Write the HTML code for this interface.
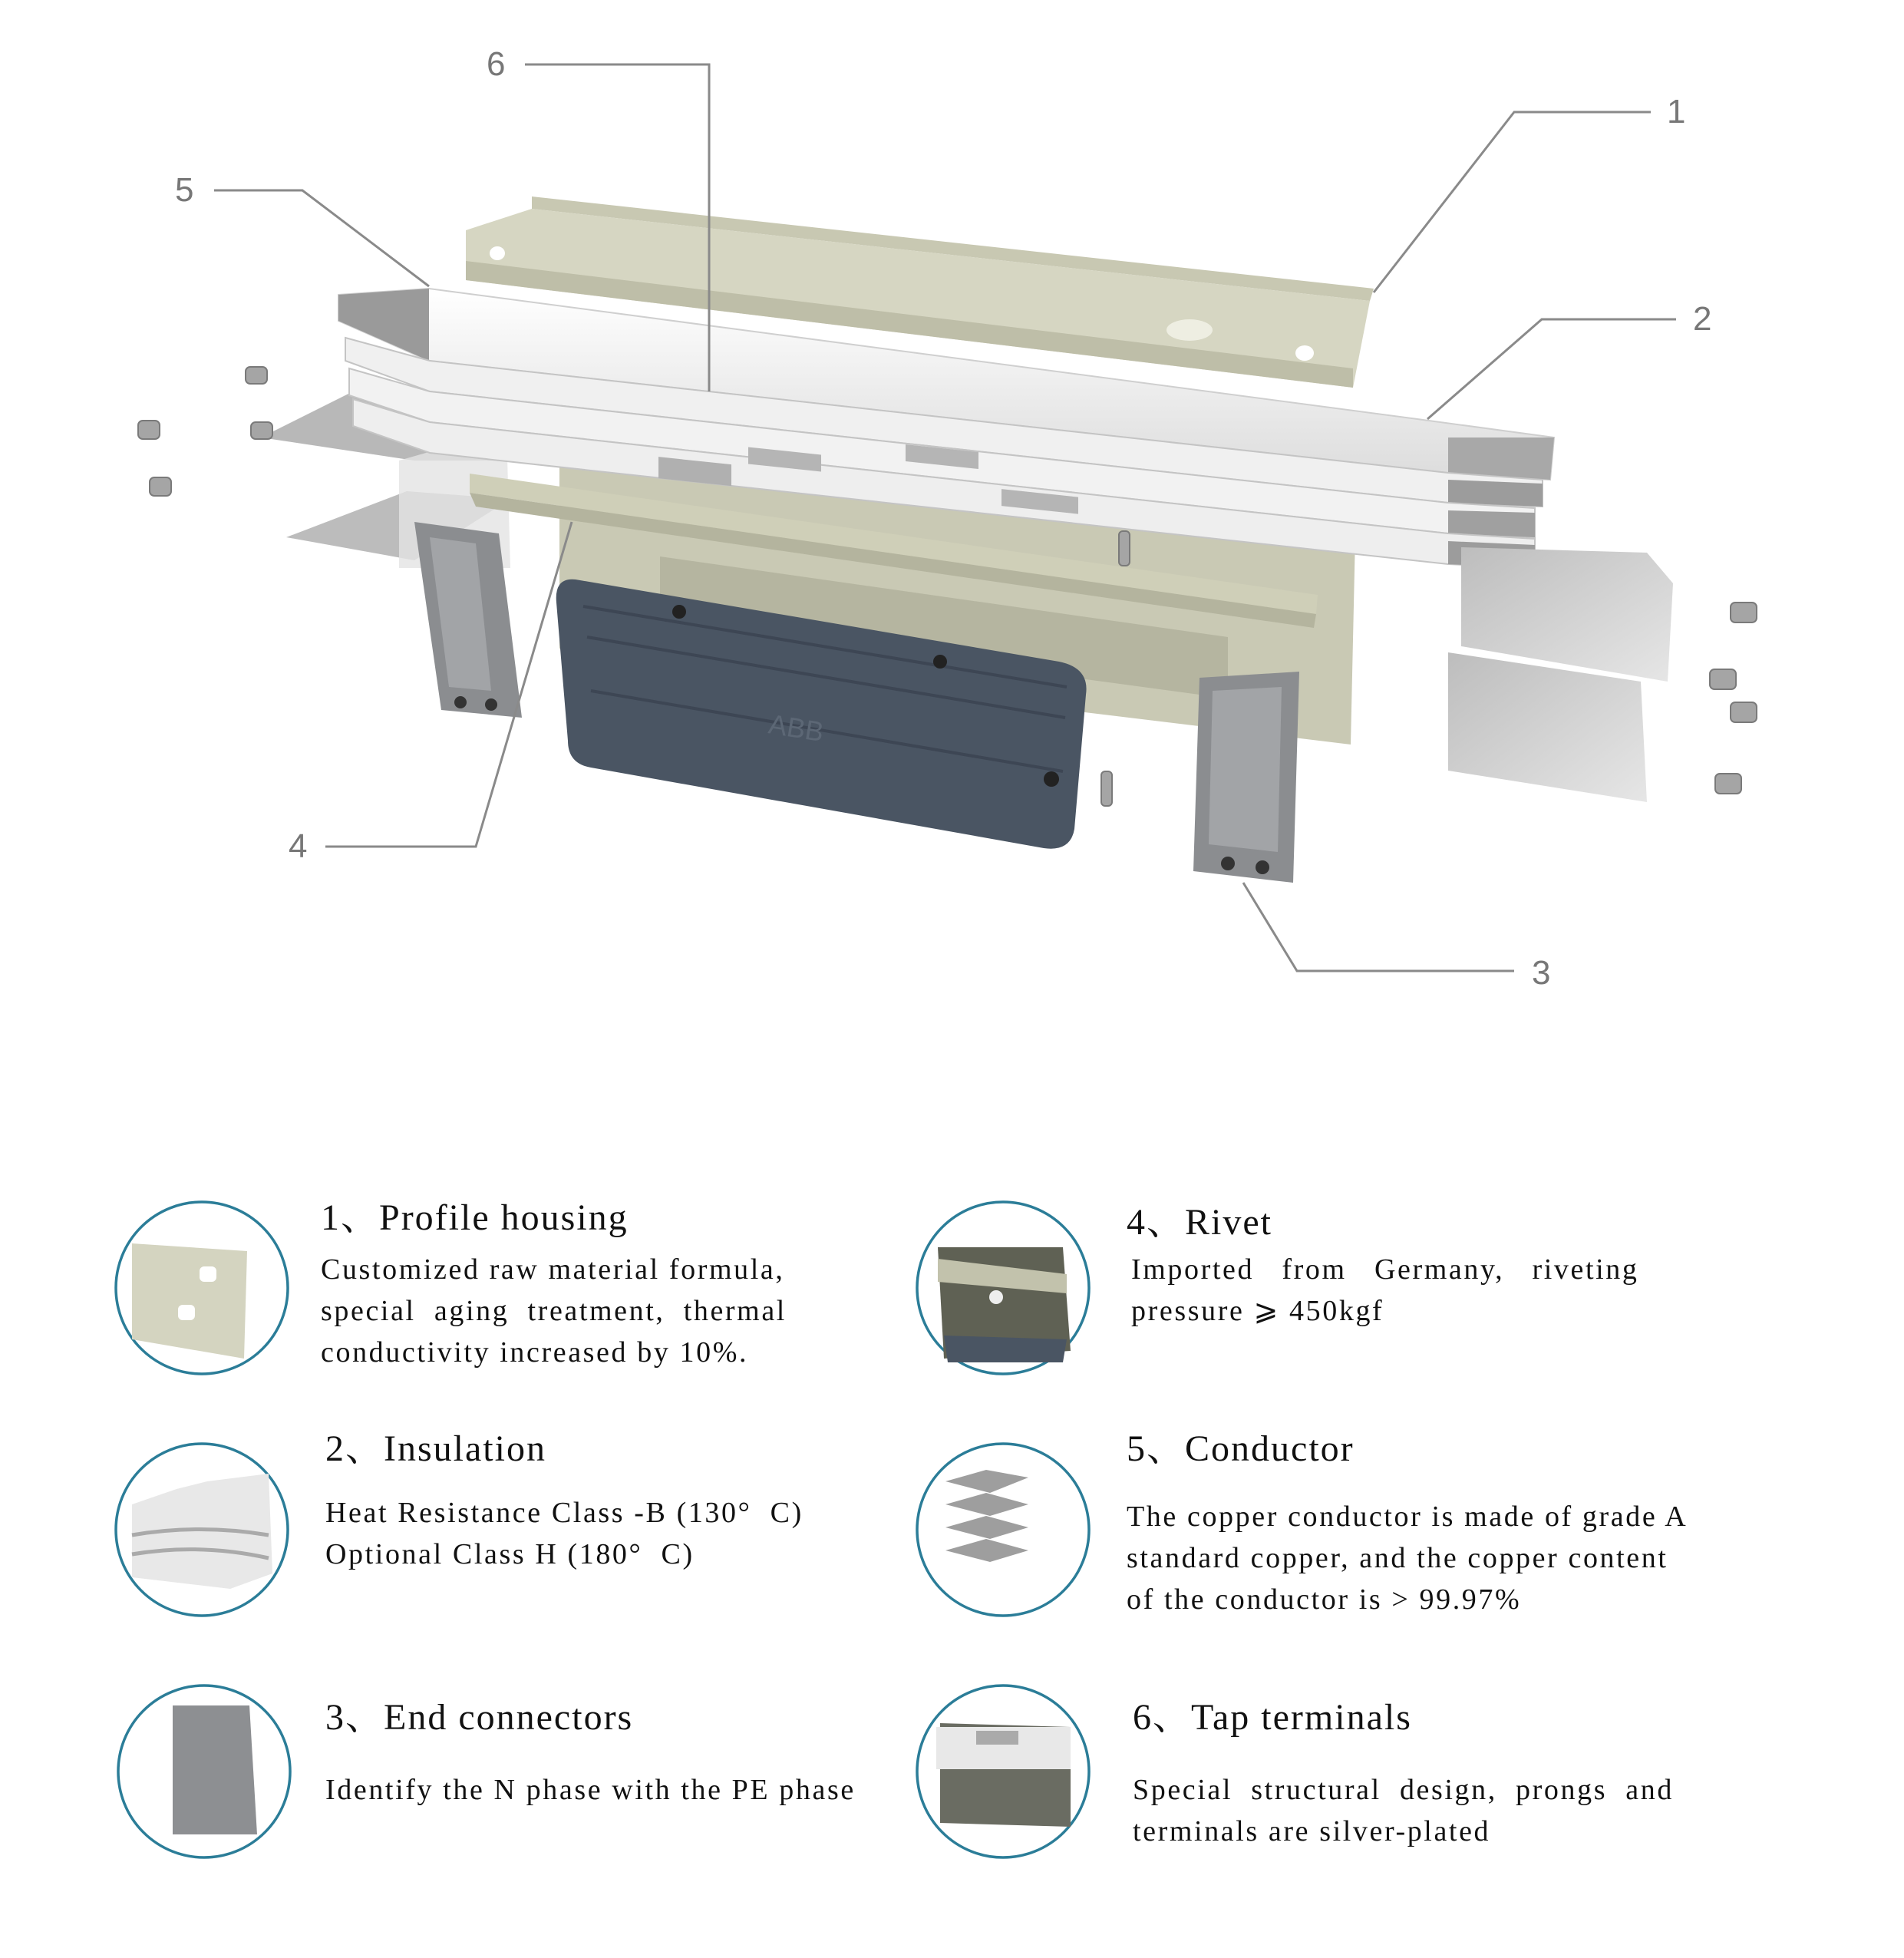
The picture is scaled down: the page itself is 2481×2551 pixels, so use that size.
<!DOCTYPE html>
<html><head><meta charset="utf-8"><style>
html,body{margin:0;padding:0;background:#fff;}
#p{position:relative;width:2481px;height:2551px;overflow:hidden;background:#fff;font-family:"Liberation Serif","Noto Serif CJK SC",serif;color:#111;}
.t{position:absolute;font-size:48px;line-height:48px;white-space:nowrap;letter-spacing:2px;}
.b{position:absolute;font-size:38px;line-height:54px;white-space:nowrap;letter-spacing:2.6px;}
.n{position:absolute;font-family:"Liberation Sans",sans-serif;font-size:44px;color:#777;line-height:44px;}
svg{position:absolute;left:0;top:0;}
</style></head><body><div id="p">
<svg width="2481" height="2551" viewBox="0 0 2481 2551">
<defs>
<linearGradient id="wg" x1="0" y1="0" x2="0" y2="1"><stop offset="0" stop-color="#ffffff"/><stop offset="1" stop-color="#dcdcdc"/></linearGradient>
<linearGradient id="gg" x1="0" y1="0" x2="1" y2="1"><stop offset="0" stop-color="#bdbdbd"/><stop offset="1" stop-color="#e6e6e6"/></linearGradient>
</defs>
<polygon points="729,551 1766,697 1760,970 729,845" fill="#c9c9b4"/>
<polygon points="860,725 1600,830 1600,910 860,810" fill="#b5b5a0"/>
<polygon points="340,570 470,505 665,540 660,600 540,600" fill="#b8b8b8"/>
<polygon points="373,700 530,640 665,650 540,730" fill="#bcbcbc"/>
<polygon points="520,600 660,560 665,740 520,740" fill="#e4e4e4" opacity="0.8"/>
<polygon points="693,256 1790,376 1785,392 693,272" fill="#c8c8b2"/>
<polygon points="607,300 693,272 1785,392 1763,505 607,365" fill="#d6d6c2"/>
<polygon points="607,340 1763,480 1763,505 607,365" fill="#bebea8"/>
<ellipse cx="648" cy="330" rx="10" ry="9" fill="#fff"/>
<ellipse cx="1700" cy="460" rx="12" ry="10" fill="#fff"/>
<ellipse cx="1550" cy="430" rx="30" ry="14" fill="#eeeee2"/>
<g>
<polygon points="441,384 559,376 1847,546 2025,570 2020,625 1887,616 559,470 441,418" fill="url(#wg)" stroke="#cfcfcf" stroke-width="2"/>
<polygon points="441,384 559,376 559,470 441,418" fill="#9a9a9a"/>
<polygon points="1887,570 2025,570 2020,625 1887,616" fill="#a8a8a8"/>
<polygon points="450,440 560,470 1887,616 2010,625 2010,660 1887,655 560,510 450,470" fill="#f0f0f0" stroke="#c4c4c4" stroke-width="2"/>
<polygon points="1887,625 2010,630 2010,660 1887,655" fill="#9c9c9c"/>
<polygon points="455,480 560,510 1887,655 2000,662 2000,700 1887,695 560,550 455,515" fill="#f2f2f2" stroke="#c4c4c4" stroke-width="2"/>
<polygon points="1887,665 2000,668 2000,700 1887,695" fill="#a0a0a0"/>
<polygon points="460,520 560,550 1887,695 2000,702 2000,740 1887,735 560,590 460,555" fill="#eeeeee" stroke="#c4c4c4" stroke-width="2"/>
<polygon points="1887,705 2000,710 2000,740 1887,735" fill="#9c9c9c"/>
</g>
<rect x="858" y="505" width="95" height="28" fill="#b0b0b0" transform="skewY(6)"/>
<rect x="975" y="480" width="95" height="22" fill="#b5b5b5" transform="skewY(6)"/>
<rect x="1180" y="455" width="95" height="22" fill="#b5b5b5" transform="skewY(6)"/>
<rect x="1305" y="500" width="100" height="22" fill="#b5b5b5" transform="skewY(6)"/>
<polygon points="612,617 1717,775 1715,800 612,642" fill="#cfcfb8"/>
<polygon points="612,642 1715,800 1712,818 620,660" fill="#b4b49e"/>
<polygon points="1904,713 2146,720 2180,760 2173,888 1904,842" fill="url(#gg)"/>
<polygon points="1887,850 2138,888 2146,1045 1887,1004" fill="url(#gg)"/>
<path d="M750,755 L1380,862 Q1420,870 1415,905 L1400,1080 Q1395,1110 1360,1105 L770,1000 Q740,995 740,965 L725,785 Q722,752 750,755 Z" fill="#4a5563"/>
<path d="M760,790 L1390,895 M765,830 L1388,935 M770,900 L1385,1005" stroke="#3d4654" stroke-width="4" fill="none"/>
<text x="1000" y="955" font-family="Liberation Sans,sans-serif" font-size="36" fill="#5c6775" transform="rotate(9 1000 955)">ABB</text>
<circle cx="885" cy="797" r="9" fill="#222"/><circle cx="1225" cy="862" r="9" fill="#222"/><circle cx="1370" cy="1015" r="10" fill="#222"/>
<polygon points="540,680 650,695 680,935 575,925" fill="#8b8d90"/>
<polygon points="560,700 620,708 640,900 585,895" fill="#a2a4a7"/>
<polygon points="1563,883 1693,875 1685,1150 1555,1135" fill="#8b8d90"/>
<polygon points="1580,900 1670,895 1665,1110 1575,1100" fill="#a2a4a7"/>
<circle cx="1600" cy="1125" r="9" fill="#333"/><circle cx="1645" cy="1130" r="9" fill="#333"/>
<circle cx="600" cy="915" r="8" fill="#333"/><circle cx="640" cy="918" r="8" fill="#333"/>
<g fill="#a5a5a5" stroke="#7a7a7a" stroke-width="2">
<rect x="320" y="478" width="28" height="22" rx="6"/><rect x="180" y="548" width="28" height="24" rx="6"/>
<rect x="195" y="622" width="28" height="24" rx="6"/><rect x="327" y="550" width="28" height="22" rx="6"/>
<rect x="2255" y="785" width="34" height="26" rx="6"/><rect x="2228" y="872" width="34" height="26" rx="6"/>
<rect x="2255" y="915" width="34" height="26" rx="6"/><rect x="2235" y="1008" width="34" height="26" rx="6"/>
<rect x="1458" y="692" width="14" height="45" rx="5"/><rect x="1435" y="1005" width="14" height="45" rx="5"/>
</g>
<g stroke="#8a8a8a" stroke-width="3" fill="none">
<polyline points="684,84 924,84 924,510"/>
<polyline points="2151,146 1973,146 1790,381"/>
<polyline points="279,248 394,248 559,373"/>
<polyline points="2184,416 2009,416 1860,546"/>
<polyline points="424,1103 620,1103 745,680"/>
<polyline points="1973,1265 1690,1265 1620,1150"/>
</g>
<g stroke="#2b7d98" stroke-width="3.5">
<ellipse cx="263" cy="1678" rx="112" ry="112" fill="#fff"/>
<ellipse cx="263" cy="1993" rx="112" ry="112" fill="#fff"/>
<ellipse cx="266" cy="2308" rx="112" ry="112" fill="#fff"/>
<ellipse cx="1307" cy="1678" rx="112" ry="112" fill="#fff"/>
<ellipse cx="1307" cy="1993" rx="112" ry="112" fill="#fff"/>
<ellipse cx="1307" cy="2308" rx="112" ry="112" fill="#fff"/>
</g>
<polygon points="172,1620 322,1630 318,1770 172,1745" fill="#d4d4c0"/>
<rect x="260" y="1650" width="22" height="20" rx="6" fill="#fff"/><rect x="232" y="1700" width="22" height="20" rx="6" fill="#fff"/>
<path d="M172,1960 L230,1940 L270,1930 L350,1920 L355,2050 L300,2070 L172,2055 Z" fill="#e8e8e8"/>
<path d="M172,2000 Q260,1985 350,2000 M172,2025 Q260,2010 350,2030" stroke="#aaa" stroke-width="5" fill="none"/>
<polygon points="225,2222 325,2222 335,2390 225,2390" fill="#8d8f92"/>
<polygon points="1222,1625 1385,1625 1395,1760 1230,1770" fill="#5f6154"/>
<polygon points="1222,1640 1390,1660 1390,1685 1222,1670" fill="#c2c2ac"/>
<circle cx="1298" cy="1690" r="9" fill="#eee"/>
<polygon points="1230,1740 1390,1745 1385,1775 1235,1775" fill="#4a5563"/>
<g fill="#9e9e9e"><polygon points="1232,1930 1285,1915 1340,1925 1290,1945"/><polygon points="1232,1960 1285,1945 1340,1960 1290,1975"/><polygon points="1232,1990 1285,1975 1340,1990 1290,2005"/><polygon points="1232,2020 1285,2005 1340,2020 1290,2035"/></g>
<polygon points="1225,2245 1395,2250 1395,2380 1225,2375" fill="#6a6c62"/>
<rect x="1220" y="2250" width="175" height="55" fill="#e8e8e8"/>
<rect x="1272" y="2255" width="55" height="18" fill="#aaa"/>
</svg>
<div class="n" style="left:634px;top:62px">6</div>
<div class="n" style="left:2172px;top:124px">1</div>
<div class="n" style="left:228px;top:226px">5</div>
<div class="n" style="left:2206px;top:394px">2</div>
<div class="n" style="left:376px;top:1081px">4</div>
<div class="n" style="left:1996px;top:1246px">3</div>

<div class="t" style="left:418px;top:1563px">1、Profile housing</div>
<div class="b" style="left:418px;top:1627px">Customized raw material formula,<br>special &nbsp;aging &nbsp;treatment, &nbsp;thermal<br>conductivity increased by 10%.</div>
<div class="t" style="left:424px;top:1864px">2、Insulation</div>
<div class="b" style="left:424px;top:1944px">Heat Resistance Class -B (130° &nbsp;C)<br>Optional Class H (180° &nbsp;C)</div>
<div class="t" style="left:424px;top:2214px">3、End connectors</div>
<div class="b" style="left:424px;top:2305px">Identify the N phase with the PE phase</div>

<div class="t" style="left:1468px;top:1569px">4、Rivet</div>
<div class="b" style="left:1474px;top:1627px">Imported &nbsp;&nbsp;from &nbsp;&nbsp;Germany, &nbsp;&nbsp;riveting<br>pressure ⩾ 450kgf</div>
<div class="t" style="left:1468px;top:1864px">5、Conductor</div>
<div class="b" style="left:1468px;top:1949px">The copper conductor is made of grade A<br>standard copper, and the copper content<br>of the conductor is &gt; 99.97%</div>
<div class="t" style="left:1476px;top:2214px">6、Tap terminals</div>
<div class="b" style="left:1476px;top:2305px">Special &nbsp;structural &nbsp;design, &nbsp;prongs &nbsp;and<br>terminals are silver-plated</div>
</div></body></html>
